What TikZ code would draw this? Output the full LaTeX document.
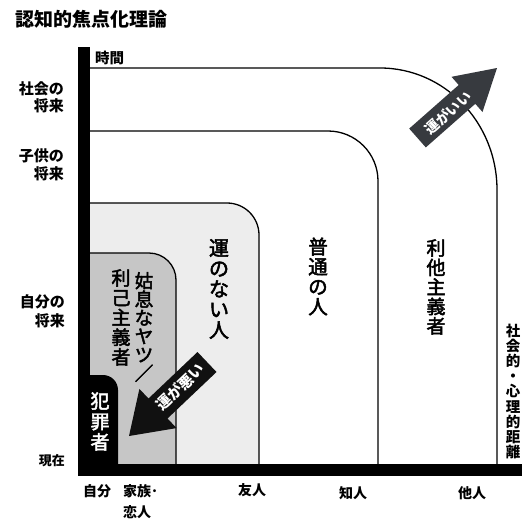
\documentclass[tikz,border=0pt]{standalone}
\usepackage{fontspec}
\setmainfont{Noto Sans CJK JP}
\newfontfamily\colfont[FakeBold=2.5]{Noto Sans CJK JP}
\definecolor{lightzone}{HTML}{EDEDED}
\definecolor{midzone}{HTML}{C6C6C6}
\definecolor{goodarrow}{HTML}{373A3F}
\definecolor{badarrow}{HTML}{111111}
\begin{document}
\begin{tikzpicture}[x=1pt,y=-1pt,
  lbl/.style={font=\bfseries\fontsize{#1}{#1}\selectfont, inner sep=0pt},
  vcol/.style n args={2}{font=\colfont\fontsize{#1}{#2}\selectfont, inner sep=0pt, align=center},
  zoneline/.style={line width=1.3pt, black},
  arrowtext/.style={font=\bfseries\fontsize{#1}{#1}\selectfont, text=white, inner sep=0pt}
]
% canvas
\fill[white] (0,0) rectangle (529,519);
\useasboundingbox (0,0) rectangle (529,519);

% zones
\fill[lightzone] (90,464) -- (90,203) -- (227,203) arc[start angle=-90,end angle=0,radius=32] -- (259,464) -- cycle;
\fill[midzone] (90,464) -- (90,253) -- (149,253) arc[start angle=-90,end angle=0,radius=27] -- (176,464) -- cycle;
\fill[black] (90,464) -- (90,375) -- (103,375) arc[start angle=-90,end angle=0,radius=15] -- (118,464) -- cycle;

% zone outlines
\draw[zoneline] (90,68) -- (380,68) arc[start angle=-90,end angle=0,x radius=117,y radius=122] -- (497,464);
\draw[zoneline] (90,131) -- (328,131) arc[start angle=-90,end angle=0,radius=50] -- (378,464);
\draw[zoneline] (90,203) -- (227,203) arc[start angle=-90,end angle=0,radius=32] -- (259,464);
\draw[zoneline] (90,253) -- (149,253) arc[start angle=-90,end angle=0,radius=27] -- (176,464);

% arrows
\fill[badarrow] (197.5,352.0) -- (216.5,372.0) -- (167.5,418.5) -- (176.6,428.1) -- (129,436) -- (139.4,388.9) -- (148.5,398.5) -- cycle;
\fill[goodarrow] (409.2,128.6) -- (425.8,147.4) -- (475.3,103.8) -- (482.5,112.0) -- (497,68) -- (451.5,76.8) -- (458.7,85.0) -- cycle;
\node[arrowtext=15, rotate=43.5] (bad) at (180,387) {運が悪い};
\node[arrowtext=14, rotate=41.4] (good) at (448,113) {運がいい};

% axes
\fill[black] (78,47) rectangle (90,476);
\fill[black] (78,464) rectangle (522,476);

% title and axis labels
\node[lbl=19, anchor=west] (title) at (15,19) {認知的焦点化理論};
\node[lbl=14.5, anchor=west] (time) at (95,58) {時間};
\node[lbl=15, anchor=east, align=right, font=\bfseries\fontsize{15}{17.5}\selectfont] (society) at (64,97.5) {社会の\\将来};
\node[lbl=15, anchor=east, align=right, font=\bfseries\fontsize{15}{18}\selectfont] (children) at (64,165) {子供の\\将来};
\node[lbl=15, anchor=east, align=right, font=\bfseries\fontsize{15}{18.5}\selectfont] (self) at (65,311.5) {自分の\\将来};
\node[lbl=13, anchor=east] (now) at (65,461) {現在};

\node[lbl=14] (me) at (97,491) {自分};
\node[lbl=14, anchor=west, align=left, font=\bfseries\fontsize{14}{21}\selectfont] (family) at (123,501.5) {家族･\\恋人};
\node[lbl=14] (friend) at (252,490) {友人};
\node[lbl=14] (acq) at (353,493) {知人};
\node[lbl=14] (other) at (472,493) {他人};

% column labels
\node[vcol={20}{20.5}] (unlucky) at (219,289) {運\\の\\な\\い\\人};
\node[vcol={19.5}{20}] (normal) at (318,276.5) {普\\通\\の\\人};
\node[vcol={19}{19.5}] (altru) at (436,287) {利\\他\\主\\義\\者};
\node[vcol={14.5}{15.1}, font=\bfseries\fontsize{14.5}{15.1}\selectfont] (dist) at (513,391.5) {社\\会\\的\\・\\心\\理\\的\\距\\離};
\node[vcol={18.5}{18.5}] (sly) at (144,327) {姑\\息\\な\\ヤ\\ツ\\／};
\node[vcol={19}{19.75}] (ego) at (121,317.5) {利\\己\\主\\義\\者};
\node[vcol={19}{20.5}, text=white] (crim) at (100,421.5) {犯\\罪\\者};
\end{tikzpicture}
\end{document}
